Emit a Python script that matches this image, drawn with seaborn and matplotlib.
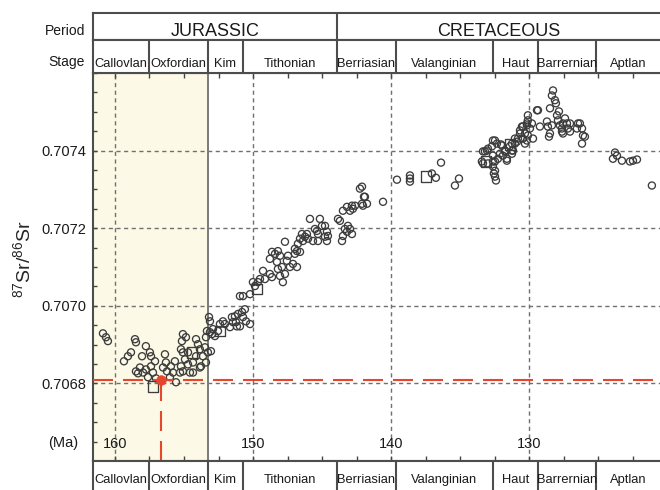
import matplotlib
matplotlib.use("Agg")
import matplotlib.pyplot as plt
from matplotlib.ticker import FixedLocator, MultipleLocator, FormatStrFormatter
import seaborn as sns

# ---- time scale (Ma) ----
stage_names = ["Callovlan", "Oxfordian", "Kim", "Tithonian", "Berriasian",
               "Valanginian", "Haut", "Barrernian", "Aptlan"]
stage_edges = [161.59, 157.54, 153.27, 150.73, 143.93, 139.65, 132.63,
               129.37, 125.17, 120.54]
period_names = ["JURASSIC", "CRETACEOUS"]
period_edges = [161.59, 143.93, 120.54]
shaded_span = [161.59, 153.27]

age_ticks = [160, 150, 140, 130]
sr_ticks = [0.7068, 0.7070, 0.7072, 0.7074]

# ---- 87Sr/86Sr measurements (circles) ----
jurassic_age = [
    160.87, 160.65, 160.51, 158.55, 158.48, 159.35, 159.06, 158.84, 157.76,
    157.47, 157.39, 158.04, 158.48, 158.19, 157.97, 157.76, 158.33, 157.39,
    157.25, 157.10, 157.61, 157.03, 156.38, 156.31, 156.52, 156.23, 155.95,
    155.66, 155.80, 156.02, 155.58, 155.08, 155.15, 154.86, 155.22, 155.08,
    154.71, 154.93, 155.22, 155.08, 155.29, 154.57, 154.71, 154.35, 154.13,
    153.99, 154.13, 153.85, 153.85, 154.35, 153.63, 153.41, 153.48, 153.27,
    153.41, 153.77, 153.12, 153.05, 152.90, 152.76, 152.54, 152.04, 151.67,
    151.24, 150.95, 150.51, 150.22, 153.34, 152.98, 153.19, 153.12, 152.40,
    152.18, 151.53, 151.31, 151.46, 151.17, 151.09, 150.73, 150.59, 150.80,
    150.95, 150.73, 150.22, 150.01, 149.86, 149.65, 149.50, 149.28, 149.14,
    148.78, 148.63, 148.78, 148.63, 148.41, 148.20, 148.05, 148.27, 148.20,
    148.05, 147.84, 147.69, 147.91, 147.55, 147.69, 147.47, 147.33, 147.11,
    146.82, 146.97, 146.97, 146.82, 146.60, 146.75, 146.46, 146.60, 146.39,
    146.24, 146.10, 146.02, 145.88, 145.66, 145.30, 145.52, 145.37, 145.16,
    145.01, 144.79, 144.65, 144.79, 144.58, 144.65, 145.30,
]
jurassic_sr = [
    0.706929, 0.706919, 0.706909, 0.706914, 0.706906, 0.706857, 0.706870, 0.706880, 0.706896,
    0.706880, 0.706870, 0.706870, 0.706831, 0.706841, 0.706828, 0.706836, 0.706826, 0.706844,
    0.706828, 0.706857, 0.706816, 0.706813, 0.706875, 0.706854, 0.706841, 0.706831, 0.706844,
    0.706857, 0.706828, 0.706816, 0.706803, 0.706927, 0.706909, 0.706919, 0.706888, 0.706880,
    0.706880, 0.706862, 0.706844, 0.706831, 0.706828, 0.706828, 0.706849, 0.706854, 0.706870,
    0.706901, 0.706914, 0.706888, 0.706841, 0.706828, 0.706870, 0.706919, 0.706893, 0.706880,
    0.706854, 0.706844, 0.706932, 0.706883, 0.706940, 0.706922, 0.706935, 0.706953, 0.706945,
    0.706958, 0.706947, 0.706960, 0.706953, 0.706935, 0.706927, 0.706971, 0.706960, 0.706953,
    0.706960, 0.706971, 0.706973, 0.706958, 0.706947, 0.706979, 0.706971, 0.706991, 0.706984,
    0.707025, 0.707025, 0.707030, 0.707061, 0.707051, 0.707061, 0.707069, 0.707090, 0.707069,
    0.707082, 0.707074, 0.707121, 0.707139, 0.707134, 0.707141, 0.707129, 0.707113, 0.707095,
    0.707077, 0.707061, 0.707082, 0.707100, 0.707116, 0.707165, 0.707129, 0.707100, 0.707108,
    0.707100, 0.707134, 0.707147, 0.707141, 0.707139, 0.707160, 0.707185, 0.707173, 0.707167,
    0.707178, 0.707185, 0.707173, 0.707224, 0.707167, 0.707167, 0.707198, 0.707193, 0.707224,
    0.707206, 0.707206, 0.707191, 0.707178, 0.707180, 0.707167, 0.707185,
]
cretaceous_age = [
    143.85, 143.71, 143.49, 143.56, 143.49, 143.20, 143.13, 143.35, 142.98,
    142.84, 143.20, 142.98, 142.84, 142.62, 142.77, 142.11, 141.90, 141.75,
    142.26, 142.11, 141.97, 142.04, 140.59, 139.58, 138.64, 138.64, 138.64,
    137.05, 136.76, 136.39, 135.38, 135.09, 133.43, 133.35, 133.35, 133.06,
    132.99, 132.63, 132.70, 132.63, 132.63, 132.48, 132.56, 132.48, 132.41,
    132.34, 132.05, 132.27, 131.91, 131.76, 131.62, 131.25, 131.25, 131.40,
    131.04, 130.82, 130.67, 130.46, 130.17, 130.31, 130.17, 130.10, 133.21,
    132.99, 132.48, 132.63, 132.48, 132.12, 131.98, 131.76, 131.62, 131.18,
    131.25, 131.04, 130.89, 130.67, 130.53, 130.46, 130.31, 130.17, 130.10,
    130.10, 129.95, 129.81, 129.73, 129.44, 129.37, 129.23, 128.72, 128.65,
    128.50, 128.57, 128.36, 128.50, 128.36, 128.28, 128.14, 128.07, 127.99,
    127.92, 127.85, 127.78, 127.63, 127.56, 127.41, 127.27, 127.20, 127.05,
    127.05, 126.55, 126.47, 126.33, 126.18, 126.11, 125.97, 126.18, 127.63,
    127.56, 123.79, 123.65, 123.94, 123.29, 122.71, 122.49, 122.20, 121.12,
]
cretaceous_sr = [
    0.707224, 0.707219, 0.707245, 0.707167, 0.707180, 0.707191, 0.707206, 0.707198, 0.707198,
    0.707185, 0.707255, 0.707245, 0.707258, 0.707258, 0.707250, 0.707263, 0.707281, 0.707263,
    0.707302, 0.707307, 0.707281, 0.707258, 0.707268, 0.707325, 0.707336, 0.707328, 0.707320,
    0.707341, 0.707330, 0.707369, 0.707310, 0.707328, 0.707372, 0.707367, 0.707398, 0.707400,
    0.707367, 0.707426, 0.707411, 0.707387, 0.707372, 0.707348, 0.707341, 0.707333, 0.707323,
    0.707418, 0.707416, 0.707379, 0.707387, 0.707400, 0.707379, 0.707400, 0.707418, 0.707411,
    0.707418, 0.707431, 0.707452, 0.707462, 0.707470, 0.707444, 0.707426, 0.707439, 0.707398,
    0.707405, 0.707426, 0.707359, 0.707372, 0.707392, 0.707413, 0.707398, 0.707374, 0.707400,
    0.707392, 0.707431, 0.707423, 0.707444, 0.707462, 0.707431, 0.707418, 0.707465, 0.707478,
    0.707491, 0.707457, 0.707470, 0.707431, 0.707504, 0.707504, 0.707462, 0.707475, 0.707462,
    0.707444, 0.707436, 0.707465, 0.707509, 0.707542, 0.707555, 0.707530, 0.707522, 0.707491,
    0.707478, 0.707501, 0.707465, 0.707457, 0.707470, 0.707483, 0.707470, 0.707457, 0.707470,
    0.707449, 0.707457, 0.707470, 0.707470, 0.707457, 0.707439, 0.707436, 0.707418, 0.707449,
    0.707444, 0.707395, 0.707387, 0.707379, 0.707374, 0.707372, 0.707374, 0.707377, 0.707310,
]

# ---- measurements drawn as squares ----
square_age = [157.25, 154.42, 152.40, 149.72, 137.48, 133.14, 131.40]
square_sr = [0.706792, 0.706880, 0.706935, 0.707043, 0.707333, 0.707372, 0.707416]

# ---- highlighted sample ----
marker_age = 156.67
marker_sr = 0.706810

# ---- style ----
sns.set_theme(style="white")
plt.rcParams.update({
    "font.family": ["Liberation Sans", "DejaVu Sans"],
    "mathtext.fontset": "custom",
    "mathtext.rm": "Liberation Sans",
    "mathtext.it": "Liberation Sans:italic",
    "mathtext.bf": "Liberation Sans:bold",
    "mathtext.default": "regular",
    "text.color": "#1a1a1a",
})
border = "#4d4d4d"
tick_col = "#444444"
red = "#e8462c"

W, H = 660, 490
fig = plt.figure(figsize=(W / 100, H / 100), dpi=100)
fig.patch.set_facecolor("white")


def box(x0, y0, x1, y1):
    return [x0 / W, 1 - y1 / H, (x1 - x0) / W, (y1 - y0) / H]


ax = fig.add_axes(box(93, 73, 690, 461))
ax.set_facecolor("white")

# shaded interval and its boundary
ax.axvspan(shaded_span[0], shaded_span[1], color="#fcfae7", zorder=0, lw=0)
ax.axvline(shaded_span[1], color="#7a7a7a", lw=1.4, zorder=1)

ax.set_axisbelow(True)
ax.grid(True, which="major", axis="both", color="#707070",
        linestyle=(0, (3, 2.5)), linewidth=1.0)

all_age = jurassic_age + cretaceous_age
all_sr = jurassic_sr + cretaceous_sr
sns.scatterplot(x=all_age, y=all_sr, marker="o", s=26, facecolors="none",
                edgecolor="#3c3c3c", linewidth=0.95, ax=ax, zorder=3)
sns.scatterplot(x=square_age, y=square_sr, marker="s", s=55, facecolors="none",
                edgecolor="#3c3c3c", linewidth=0.95, ax=ax, zorder=3)

ax.set_xlim(161.59, 118.36)
ax.set_ylim(0.70660, 0.70760)

# highlighted value: dashed guides and dot
ymin = ax.get_ylim()[0]
ax.axhline(marker_sr, color=red, lw=1.5, linestyle=(0, (9.6, 4.8)), zorder=4)
ax.plot([marker_age, marker_age], [ymin, marker_sr], color=red, lw=1.5,
        linestyle=(0, (9.6, 4.8)), zorder=4)
sns.scatterplot(x=[marker_age], y=[marker_sr], color=red, s=48,
                edgecolor=red, linewidth=0.5, ax=ax, zorder=5)

ax.xaxis.set_major_locator(FixedLocator(age_ticks))
ax.xaxis.set_minor_locator(MultipleLocator(2.5))
ax.xaxis.set_major_formatter(FormatStrFormatter("%d"))
ax.yaxis.set_major_locator(FixedLocator(sr_ticks))
ax.yaxis.set_minor_locator(MultipleLocator(0.00005))
ax.yaxis.set_major_formatter(FormatStrFormatter("%.4f"))
ax.tick_params(axis="x", which="both", direction="in", bottom=True, top=True,
               length=3.5, width=1, color=tick_col, labelsize=10.5, pad=-17,
               labelcolor="#1a1a1a")
ax.tick_params(axis="y", which="both", direction="in", left=True, right=False,
               length=3, width=1, color=tick_col, labelsize=10.5, pad=5,
               labelcolor="#1a1a1a")
for side in ("left", "top", "bottom"):
    ax.spines[side].set_color(border)
    ax.spines[side].set_linewidth(1.5)
ax.spines["right"].set_visible(False)

ax.set_xlabel("")
ax.set_ylabel(r"$^{87}$Sr/$^{86}$Sr", fontsize=14)
ax.yaxis.set_label_coords(-0.098, 0.52)


def header_axes(y0, y1):
    hax = fig.add_axes(box(93, y0, 690, y1), sharex=ax)
    hax.set_ylim(0, 1)
    hax.set_facecolor("white")
    hax.tick_params(which="both", left=False, right=False, bottom=False,
                    top=False, labelleft=False, labelbottom=False)
    hax.grid(False)
    for s in hax.spines.values():
        s.set_color(border)
        s.set_linewidth(1.5)
    hax.spines["right"].set_visible(False)
    return hax


def fill_row(hax, names, edges, ytxt, size):
    for e in edges[1:-1]:
        hax.axvline(e, color=border, lw=1.5)
    for name, a, b in zip(names, edges[:-1], edges[1:]):
        hax.text((a + b) / 2, ytxt, name, ha="center", va="baseline",
                 fontsize=size)


period_ax = header_axes(13, 40)
fill_row(period_ax, period_names, period_edges, 0.15, 13)
stage_top = header_axes(40, 73)
fill_row(stage_top, stage_names, stage_edges, 0.18, 9.3)
stage_bottom = header_axes(461, 505)
fill_row(stage_bottom, stage_names, stage_edges, 0.49, 9.3)
ax.set_xlim(161.59, 118.36)

fig.text(85 / W, 1 - 35 / H, "Period", ha="right", va="baseline", fontsize=10)
fig.text(85 / W, 1 - 66 / H, "Stage", ha="right", va="baseline", fontsize=10)
fig.text(78 / W, 1 - 447 / H, "(Ma)", ha="right", va="baseline", fontsize=10.5)

fig.savefig("out.png", dpi=100)
